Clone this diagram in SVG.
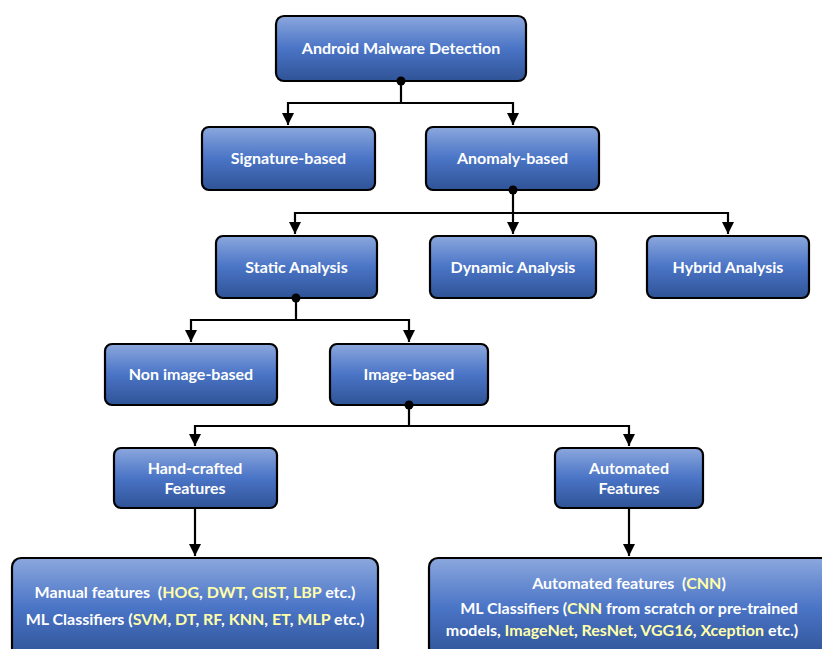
<svg xmlns="http://www.w3.org/2000/svg" width="822" height="649" viewBox="0 0 822 649">
<defs>
<linearGradient id="g" x1="0" y1="0" x2="0" y2="1">
<stop offset="0" stop-color="#8ba7dd"/>
<stop offset="0.5" stop-color="#4a74c6"/>
<stop offset="1" stop-color="#2f5396"/>
</linearGradient>
<marker id="arr" viewBox="0 0 10 10" refX="10" refY="5" markerWidth="5.5" markerHeight="5.5" orient="auto" markerUnits="strokeWidth">
<path d="M0,0 L10,5 L0,10 z" fill="#000"/>
</marker>
</defs>
<style>
.box{fill:url(#g);stroke:#000;stroke-width:2.2}
.t{font-family:Lato,"Open Sans","Liberation Sans",sans-serif;font-weight:700;font-size:16px;fill:#fff;text-anchor:middle}
.s{font-size:16px}
.y{fill:#ffffaa}
.c{fill:none;stroke:#000;stroke-width:2.2}
.d{fill:#000}
</style>
<rect width="822" height="649" fill="#fff"/>
<g id="connectors">
<path class="c" d="M401,81 V103 H288 V125" marker-end="url(#arr)"/>
<path class="c" d="M401,103 H513 V125" marker-end="url(#arr)"/>
<path class="c" d="M513,190 V234" marker-end="url(#arr)"/>
<path class="c" d="M513,213 H295 V234" marker-end="url(#arr)"/>
<path class="c" d="M513,213 H728 V234" marker-end="url(#arr)"/>
<path class="c" d="M296,298 V320 H191 V342" marker-end="url(#arr)"/>
<path class="c" d="M296,320 H409 V342" marker-end="url(#arr)"/>
<path class="c" d="M409,405 V426 H195 V446" marker-end="url(#arr)"/>
<path class="c" d="M409,426 H629 V446" marker-end="url(#arr)"/>
<path class="c" d="M195,508 V556" marker-end="url(#arr)"/>
<path class="c" d="M629,508 V556" marker-end="url(#arr)"/>
</g>
<g id="root"><rect class="box" x="276" y="16" width="250" height="65" rx="8"/><text class="t" x="401" y="54">Android Malware Detection</text></g>
<g id="signature"><rect class="box" x="202" y="127" width="173" height="63" rx="7"/><text class="t" x="288.5" y="164">Signature-based</text></g>
<g id="anomaly"><rect class="box" x="426" y="127" width="173" height="63" rx="7"/><text class="t" x="512.5" y="164">Anomaly-based</text></g>
<g id="static"><rect class="box" x="216" y="236" width="161" height="62" rx="7"/><text class="t" x="296.5" y="273">Static Analysis</text></g>
<g id="dynamic"><rect class="box" x="430" y="236" width="166" height="62" rx="7"/><text class="t" x="513" y="273">Dynamic Analysis</text></g>
<g id="hybrid"><rect class="box" x="647" y="236" width="162" height="62" rx="7"/><text class="t" x="728" y="273">Hybrid Analysis</text></g>
<g id="nonimage"><rect class="box" x="105" y="344" width="172" height="61" rx="7"/><text class="t" x="191" y="380">Non image-based</text></g>
<g id="image"><rect class="box" x="330" y="344" width="158" height="61" rx="7"/><text class="t" x="409" y="380">Image-based</text></g>
<g id="handcrafted"><rect class="box" x="114" y="448" width="163" height="60" rx="7"/><text class="t" x="195" y="474">Hand-crafted</text><text class="t" x="195" y="494">Features</text></g>
<g id="automated"><rect class="box" x="555" y="448" width="148" height="60" rx="7"/><text class="t" x="629" y="474">Automated</text><text class="t" x="629" y="494">Features</text></g>
<g id="manual"><rect class="box" x="12" y="558" width="366" height="100" rx="9"/>
<text class="t s" x="195" y="598" xml:space="preserve">Manual features  (<tspan class="y">HOG</tspan>, <tspan class="y">DWT</tspan>, <tspan class="y">GIST</tspan>, <tspan class="y">LBP</tspan> etc.)</text>
<text class="t s" x="195" y="625">ML Classifiers (<tspan class="y">SVM</tspan>, <tspan class="y">DT</tspan>, <tspan class="y">RF</tspan>, <tspan class="y">KNN</tspan>, <tspan class="y">ET</tspan>, <tspan class="y">MLP</tspan> etc.)</text>
</g>
<g id="automatedml"><rect class="box" x="429" y="558" width="410" height="100" rx="9"/>
<text class="t s" x="629" y="589" xml:space="preserve">Automated features  (<tspan class="y">CNN</tspan>)</text>
<text class="t s" x="629" y="614">ML Classifiers (<tspan class="y">CNN</tspan> from scratch or pre-trained</text>
<text class="t s" x="622" y="636">models, <tspan class="y">ImageNet</tspan>, <tspan class="y">ResNet</tspan>, <tspan class="y">VGG16</tspan>, <tspan class="y">Xception</tspan> etc.)</text>
</g>
<g id="junctions">
<circle class="d" cx="401" cy="81" r="4.5"/>
<circle class="d" cx="513" cy="190" r="4.5"/>
<circle class="d" cx="296" cy="298" r="4.5"/>
<circle class="d" cx="409" cy="405" r="4.5"/>
</g>
</svg>
